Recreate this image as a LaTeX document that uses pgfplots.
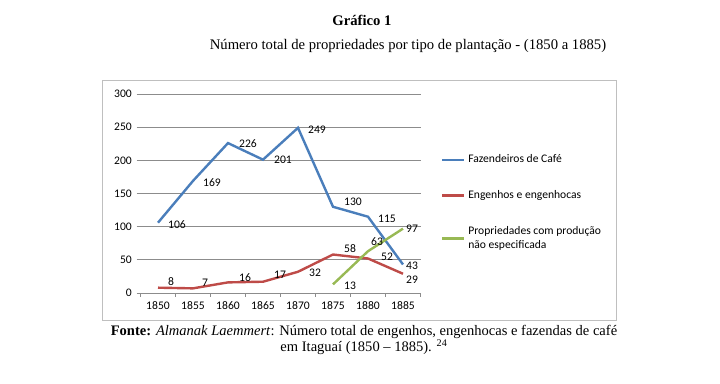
\documentclass[border=0pt]{standalone}
\usepackage{fontspec}
\setmainfont{Liberation Serif}
\newfontfamily\calfont{Carlito}
\usepackage{pgfplots}
\pgfplotsset{compat=1.18}
\definecolor{cblue}{HTML}{4A7EBB}
\definecolor{cred}{HTML}{BE4B48}
\definecolor{cgreen}{HTML}{98B954}
\definecolor{cgrid}{HTML}{8C8C8C}
\begin{document}
\begin{tikzpicture}[x=0.75pt,y=0.75pt]
\path[use as bounding box] (0,0) rectangle (720,384);
\draw[gray!50, line width=0.75pt] (102,63) rectangle (616,303);
\node[font=\fontsize{11}{13}\selectfont\bfseries] at (362,364) {Gráfico 1};
\node[font=\fontsize{11}{13}\selectfont] at (408,338) {Número total de propriedades por tipo de plantação - (1850 a 1885)};
\node[font=\fontsize{10.9}{12}\selectfont, align=center] at (364,44) {\textbf{Fonte:} \textit{Almanak Laemmert}: Número total de engenhos, engenhocas e fazendas de café\\em Itaguaí (1850 -- 1885). \textsuperscript{24}};
\begin{axis}[
  at={(105.375pt,68.25pt)}, anchor=south west, scale only axis,
  width=210pt, height=149.25pt,
  xmin=-0.5, xmax=7.5, ymin=0, ymax=300,
  xtick={-0.5,0.5,...,7.5},
  x tick label as interval,
  xticklabels={1850,1855,1860,1865,1870,1875,1880,1885},
  ytick={0,50,...,300},
  axis lines*=left,
  y axis line style={draw=none},
  x axis line style={cgrid, line width=0.6pt},
  ymajorgrids, grid style={cgrid, line width=0.6pt},
  tick align=outside,
  major tick length=3pt,
  tick style={cgrid, line width=0.6pt},
  /pgf/number format/assume math mode=true,
  tick label style={font=\calfont\fontsize{8.7}{10}\selectfont},
  clip=false,
  legend cell align=left,
  legend image code/.code={\draw[#1] (0pt,0pt) -- (16.5pt,0pt);},
  legend style={at={(rel axis cs:1.073,0.7085)}, anchor=north west, draw=none, fill=none,
    font=\calfont\fontsize{8.7}{10.5}\selectfont, align=left, row sep=15.25pt, inner sep=0pt},
  every node near coord/.append style={anchor=center, text=black, font=\calfont\fontsize{8.7}{10}\selectfont,
    xshift={\dx*0.75pt}, yshift={\dy*0.75pt}},
  visualization depends on={value \thisrow{dx}\as\dx},
  visualization depends on={value \thisrow{dy}\as\dy},
]
\addplot[color=cblue, line width=1.8pt, nodes near coords] table {
x y dx dy
0 106 19 -1.6
1 169 19 -1.4
2 226 20 -1
3 201 20 -0.6
4 249 19 -1.5
5 130 20 4.5
6 115 19 -2.3
7 43 9 -1
};
\addlegendentry{Fazendeiros de Café}
\addplot[color=cred, line width=1.8pt, nodes near coords] table {
x y dx dy
0 8 13 5.7
1 7 12 6
2 16 17 5
3 17 17 6.7
4 32 17 -1
5 58 17 5.5
6 52 19 1.5
7 29 9 -6
};
\addlegendentry{Engenhos e engenhocas}
\addplot[color=cgreen, line width=1.8pt, nodes near coords] table {
x y dx dy
5 13 17 -1
6 63 9 9.5
7 97 9 0
};
\addlegendentry{Propriedades com produção\\não especificada}
\end{axis}
\end{tikzpicture}
\end{document}
